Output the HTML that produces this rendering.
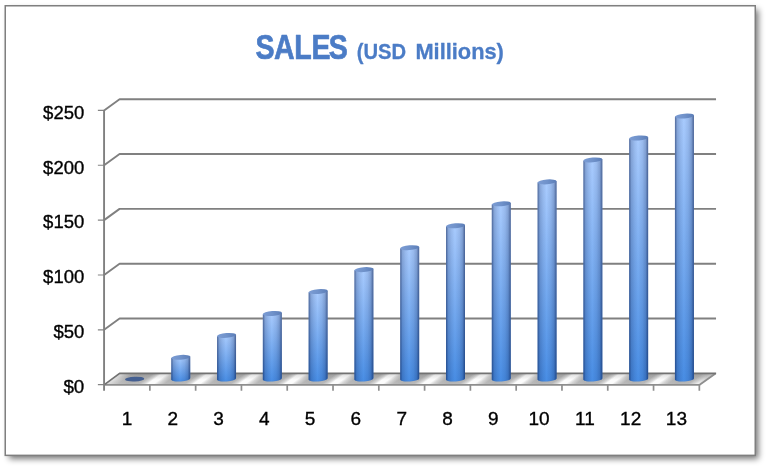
<!DOCTYPE html>
<html lang="en"><head><meta charset="utf-8"><title>SALES (USD Millions)</title>
<style>
html,body{margin:0;padding:0;background:#fff;}
body{width:770px;height:470px;overflow:hidden;font-family:"Liberation Sans",sans-serif;}
svg{display:block}
text{font-family:"Liberation Sans",sans-serif}
</style></head><body>
<svg width="770" height="470" viewBox="0 0 770 470">
<defs>
<filter id="sh" x="-5%" y="-5%" width="110%" height="112%"><feGaussianBlur stdDeviation="3"/></filter>
<linearGradient id="bv" x1="0" y1="0" x2="0" y2="1">
<stop offset="0" stop-color="#aaccfe"/><stop offset="1" stop-color="#488de4"/></linearGradient>
<linearGradient id="bh" x1="0" y1="0" x2="1" y2="0">
<stop offset="0" stop-color="#001040" stop-opacity=".52"/>
<stop offset=".05" stop-color="#001040" stop-opacity=".40"/>
<stop offset=".12" stop-color="#001040" stop-opacity=".20"/>
<stop offset=".28" stop-color="#001040" stop-opacity=".09"/>
<stop offset=".47" stop-color="#001040" stop-opacity="0"/>
<stop offset=".70" stop-color="#001040" stop-opacity=".09"/>
<stop offset=".86" stop-color="#001040" stop-opacity=".22"/>
<stop offset=".95" stop-color="#001040" stop-opacity=".44"/>
<stop offset="1" stop-color="#001040" stop-opacity=".56"/></linearGradient>
<linearGradient id="tp" x1="0" y1="0" x2="1" y2="0">
<stop offset="0" stop-color="#7b9cd4"/><stop offset=".5" stop-color="#7092ca"/><stop offset="1" stop-color="#5b7db7"/></linearGradient>

<linearGradient id="fl" gradientUnits="userSpaceOnUse" x1="0" y1="0" x2="45.79" y2="0" spreadMethod="repeat" gradientTransform="matrix(1 0 -1.38 1 657.38 0)">
<stop offset="0" stop-color="#adadad"/><stop offset=".25" stop-color="#b3b3b3"/><stop offset=".36" stop-color="#d4d4d4"/><stop offset=".44" stop-color="#fcfcfc"/><stop offset=".57" stop-color="#fcfcfc"/><stop offset=".67" stop-color="#d4d4d4"/><stop offset=".80" stop-color="#b3b3b3"/><stop offset="1" stop-color="#adadad"/></linearGradient>
<linearGradient id="fv" x1="0" y1="0" x2="0" y2="1"><stop offset="0" stop-color="#000" stop-opacity=".13"/><stop offset=".55" stop-color="#000" stop-opacity="0"/><stop offset=".55" stop-color="#fff" stop-opacity="0"/><stop offset="1" stop-color="#fff" stop-opacity=".14"/></linearGradient>
<linearGradient id="fe" gradientUnits="userSpaceOnUse" x1="104" y1="0" x2="716" y2="0"><stop offset="0" stop-color="#c4c4c4" stop-opacity=".75"/><stop offset=".045" stop-color="#b4b4b4" stop-opacity="0"/><stop offset=".962" stop-color="#b4b4b4" stop-opacity="0"/><stop offset=".985" stop-color="#bcbcbc" stop-opacity=".7"/><stop offset="1" stop-color="#c8c8c8" stop-opacity=".8"/></linearGradient>
</defs>
<rect x="9" y="9.5" width="749.4" height="449.3" fill="#000" opacity=".54" filter="url(#sh)"/>
<rect x="5.25" y="5.75" width="750" height="449.6" fill="#fff" stroke="#7f7f7f" stroke-width="1.5"/>
<g opacity=".999">
<text transform="translate(255.6 58.6) scale(.835 1)" x="0 22.1 46.3 66.9 87.6" y="0" font-size="34.2" font-weight="bold" fill="#4b7cc6" stroke="#4b7cc6" stroke-width=".7" stroke-linejoin="round">SALES</text>
<text y="58.6" font-size="22.4" font-weight="bold" fill="#4b7cc6" stroke="#4b7cc6" stroke-width=".3" stroke-linejoin="round"><tspan x="356.75" textLength="49.4" lengthAdjust="spacingAndGlyphs">(USD</tspan> <tspan x="415.4" textLength="88.5" lengthAdjust="spacingAndGlyphs">Millions)</tspan></text>
<path d="M104.07 329.8L119.57 318.56H716.04 M104.07 274.96L119.57 263.72H716.04 M104.07 220.12L119.57 208.88H716.04 M104.07 165.28L119.57 154.04H716.04 M104.07 110.44L119.57 99.2H716.04" fill="none" stroke="#808080" stroke-width="1.9" stroke-linejoin="round"/>
<path d="M97.87 384.64H104.07 M97.87 329.8H104.07 M97.87 274.96H104.07 M97.87 220.12H104.07 M97.87 165.28H104.07 M97.87 110.44H104.07" fill="none" stroke="#858585" stroke-width="1.15"/>
<path d="M104.07 384.9L119.57 373.4H715.54L699.34 384.9Z" fill="url(#fl)"/>
<path d="M104.07 384.9L119.57 373.4H715.54L699.34 384.9Z" fill="url(#fe)"/>
<path d="M104.07 384.9L119.57 373.4H715.54L699.34 384.9Z" fill="url(#fv)"/>
<path d="M104.07 384.9H699.34L715.54 373.4" fill="none" stroke="#8e8e8e" stroke-width="1.8" stroke-linejoin="round"/>
<path d="M104.07 384.9L119.57 373.4H716.14" fill="none" stroke="#727272" stroke-width="1.7" stroke-linejoin="round"/>
<path d="M104.07 109.94V390.74" fill="none" stroke="#808080" stroke-width="1.9"/>
<path d="M149.86 384.9V390.74 M195.65 384.9V390.74 M241.44 384.9V390.74 M287.23 384.9V390.74 M333.02 384.9V390.74 M378.81 384.9V390.74 M424.6 384.9V390.74 M470.39 384.9V390.74 M516.18 384.9V390.74 M561.97 384.9V390.74 M607.76 384.9V390.74 M653.55 384.9V390.74 M699.34 384.9V390.74" fill="none" stroke="#8f8f8f" stroke-width="1.7"/>
<ellipse cx="134.66" cy="379.1" rx="9.65" ry="2.4" fill="#445f91" transform="rotate(-2.5 134.96 379.1)"/>
<g><path d="M171.25 358.11L171.25 379.85A9.5 2.3 -4.5 0 0 190.25 378.35L190.25 356.62Z" fill="url(#bv)"/><path d="M171.25 358.11L171.25 379.85A9.5 2.3 -4.5 0 0 190.25 378.35L190.25 356.62Z" fill="url(#bh)"/>
<ellipse cx="180.75" cy="357.36" rx="9.55" ry="2.4" fill="url(#tp)" transform="rotate(-4.5 180.75 357.36)"/></g>
<g><path d="M217.04 336.17L217.04 379.85A9.5 2.3 -4.5 0 0 236.04 378.35L236.04 334.68Z" fill="url(#bv)"/><path d="M217.04 336.17L217.04 379.85A9.5 2.3 -4.5 0 0 236.04 378.35L236.04 334.68Z" fill="url(#bh)"/>
<ellipse cx="226.54" cy="335.43" rx="9.55" ry="2.4" fill="url(#tp)" transform="rotate(-4.5 226.54 335.43)"/></g>
<g><path d="M262.83 314.24L262.83 379.85A9.5 2.3 -4.5 0 0 281.83 378.35L281.83 312.75Z" fill="url(#bv)"/><path d="M262.83 314.24L262.83 379.85A9.5 2.3 -4.5 0 0 281.83 378.35L281.83 312.75Z" fill="url(#bh)"/>
<ellipse cx="272.33" cy="313.49" rx="9.55" ry="2.4" fill="url(#tp)" transform="rotate(-4.5 272.33 313.49)"/></g>
<g><path d="M308.62 292.3L308.62 379.85A9.5 2.3 -4.5 0 0 327.62 378.35L327.62 290.81Z" fill="url(#bv)"/><path d="M308.62 292.3L308.62 379.85A9.5 2.3 -4.5 0 0 327.62 378.35L327.62 290.81Z" fill="url(#bh)"/>
<ellipse cx="318.12" cy="291.56" rx="9.55" ry="2.4" fill="url(#tp)" transform="rotate(-4.5 318.12 291.56)"/></g>
<g><path d="M354.41 270.37L354.41 379.85A9.5 2.3 -4.5 0 0 373.41 378.35L373.41 268.87Z" fill="url(#bv)"/><path d="M354.41 270.37L354.41 379.85A9.5 2.3 -4.5 0 0 373.41 378.35L373.41 268.87Z" fill="url(#bh)"/>
<ellipse cx="363.91" cy="269.62" rx="9.55" ry="2.4" fill="url(#tp)" transform="rotate(-4.5 363.91 269.62)"/></g>
<g><path d="M400.2 248.43L400.2 379.85A9.5 2.3 -4.5 0 0 419.2 378.35L419.2 246.94Z" fill="url(#bv)"/><path d="M400.2 248.43L400.2 379.85A9.5 2.3 -4.5 0 0 419.2 378.35L419.2 246.94Z" fill="url(#bh)"/>
<ellipse cx="409.7" cy="247.68" rx="9.55" ry="2.4" fill="url(#tp)" transform="rotate(-4.5 409.7 247.68)"/></g>
<g><path d="M446 226.49L446 379.85A9.5 2.3 -4.5 0 0 465 378.35L465 225Z" fill="url(#bv)"/><path d="M446 226.49L446 379.85A9.5 2.3 -4.5 0 0 465 378.35L465 225Z" fill="url(#bh)"/>
<ellipse cx="455.5" cy="225.75" rx="9.55" ry="2.4" fill="url(#tp)" transform="rotate(-4.5 455.5 225.75)"/></g>
<g><path d="M491.78 204.56L491.78 379.85A9.5 2.3 -4.5 0 0 510.78 378.35L510.78 203.07Z" fill="url(#bv)"/><path d="M491.78 204.56L491.78 379.85A9.5 2.3 -4.5 0 0 510.78 378.35L510.78 203.07Z" fill="url(#bh)"/>
<ellipse cx="501.28" cy="203.81" rx="9.55" ry="2.4" fill="url(#tp)" transform="rotate(-4.5 501.28 203.81)"/></g>
<g><path d="M537.58 182.62L537.58 379.85A9.5 2.3 -4.5 0 0 556.58 378.35L556.58 181.13Z" fill="url(#bv)"/><path d="M537.58 182.62L537.58 379.85A9.5 2.3 -4.5 0 0 556.58 378.35L556.58 181.13Z" fill="url(#bh)"/>
<ellipse cx="547.08" cy="181.88" rx="9.55" ry="2.4" fill="url(#tp)" transform="rotate(-4.5 547.08 181.88)"/></g>
<g><path d="M583.37 160.69L583.37 379.85A9.5 2.3 -4.5 0 0 602.37 378.35L602.37 159.19Z" fill="url(#bv)"/><path d="M583.37 160.69L583.37 379.85A9.5 2.3 -4.5 0 0 602.37 378.35L602.37 159.19Z" fill="url(#bh)"/>
<ellipse cx="592.87" cy="159.94" rx="9.55" ry="2.4" fill="url(#tp)" transform="rotate(-4.5 592.87 159.94)"/></g>
<g><path d="M629.15 138.75L629.15 379.85A9.5 2.3 -4.5 0 0 648.15 378.35L648.15 137.26Z" fill="url(#bv)"/><path d="M629.15 138.75L629.15 379.85A9.5 2.3 -4.5 0 0 648.15 378.35L648.15 137.26Z" fill="url(#bh)"/>
<ellipse cx="638.65" cy="138" rx="9.55" ry="2.4" fill="url(#tp)" transform="rotate(-4.5 638.65 138)"/></g>
<g><path d="M674.94 116.81L674.94 379.85A9.5 2.3 -4.5 0 0 693.94 378.35L693.94 115.32Z" fill="url(#bv)"/><path d="M674.94 116.81L674.94 379.85A9.5 2.3 -4.5 0 0 693.94 378.35L693.94 115.32Z" fill="url(#bh)"/>
<ellipse cx="684.44" cy="116.07" rx="9.55" ry="2.4" fill="url(#tp)" transform="rotate(-4.5 684.44 116.07)"/></g>
<text x="63.4" y="392.89" font-size="19" fill="#000" stroke="#000" stroke-width=".35" textLength="20.9" lengthAdjust="spacingAndGlyphs">$0</text>
<text x="53.4" y="338.05" font-size="19" fill="#000" stroke="#000" stroke-width=".35" textLength="30.9" lengthAdjust="spacingAndGlyphs">$50</text>
<text x="43.1" y="283.21" font-size="19" fill="#000" stroke="#000" stroke-width=".35" textLength="41.2" lengthAdjust="spacingAndGlyphs">$100</text>
<text x="43.1" y="228.37" font-size="19" fill="#000" stroke="#000" stroke-width=".35" textLength="41.2" lengthAdjust="spacingAndGlyphs">$150</text>
<text x="43.1" y="173.53" font-size="19" fill="#000" stroke="#000" stroke-width=".35" textLength="41.2" lengthAdjust="spacingAndGlyphs">$200</text>
<text x="43.1" y="118.69" font-size="19" fill="#000" stroke="#000" stroke-width=".35" textLength="41.2" lengthAdjust="spacingAndGlyphs">$250</text>
<text x="126.96" y="425.0" font-size="19" fill="#000" stroke="#000" stroke-width=".35" text-anchor="middle">1</text>
<text x="172.75" y="425.0" font-size="19" fill="#000" stroke="#000" stroke-width=".35" text-anchor="middle">2</text>
<text x="218.54" y="425.0" font-size="19" fill="#000" stroke="#000" stroke-width=".35" text-anchor="middle">3</text>
<text x="264.33" y="425.0" font-size="19" fill="#000" stroke="#000" stroke-width=".35" text-anchor="middle">4</text>
<text x="310.12" y="425.0" font-size="19" fill="#000" stroke="#000" stroke-width=".35" text-anchor="middle">5</text>
<text x="355.91" y="425.0" font-size="19" fill="#000" stroke="#000" stroke-width=".35" text-anchor="middle">6</text>
<text x="401.7" y="425.0" font-size="19" fill="#000" stroke="#000" stroke-width=".35" text-anchor="middle">7</text>
<text x="447.5" y="425.0" font-size="19" fill="#000" stroke="#000" stroke-width=".35" text-anchor="middle">8</text>
<text x="493.28" y="425.0" font-size="19" fill="#000" stroke="#000" stroke-width=".35" text-anchor="middle">9</text>
<text x="539.08" y="425.0" font-size="19" fill="#000" stroke="#000" stroke-width=".35" text-anchor="middle">10</text>
<text x="584.87" y="425.0" font-size="19" fill="#000" stroke="#000" stroke-width=".35" text-anchor="middle">11</text>
<text x="630.65" y="425.0" font-size="19" fill="#000" stroke="#000" stroke-width=".35" text-anchor="middle">12</text>
<text x="676.44" y="425.0" font-size="19" fill="#000" stroke="#000" stroke-width=".35" text-anchor="middle">13</text>
</g>
</svg></body></html>
